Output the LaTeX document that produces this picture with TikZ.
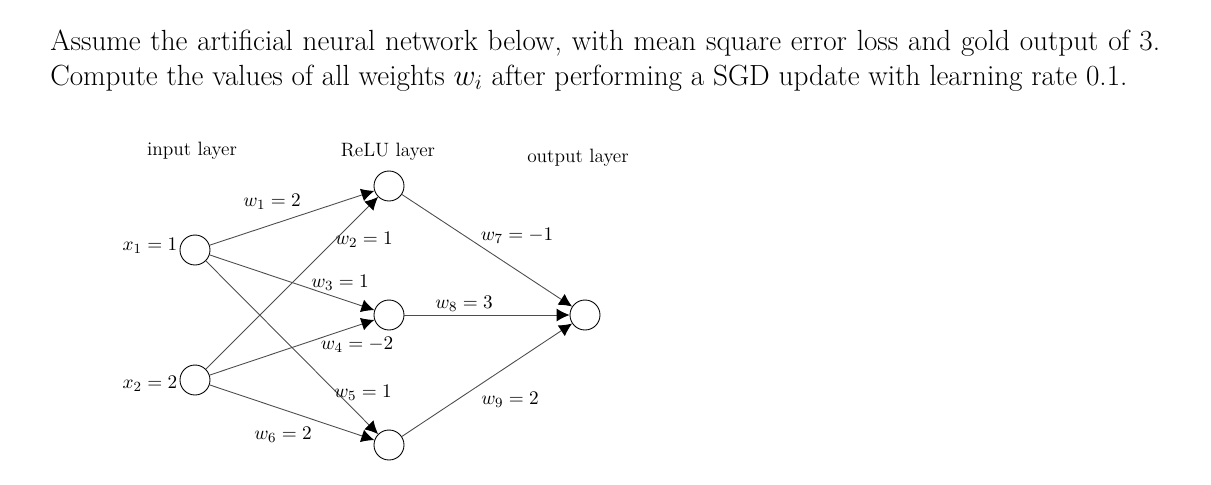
\documentclass[tikz,border=0pt]{standalone}
\usetikzlibrary{arrows.meta}
\begin{document}
\begin{tikzpicture}[x=0.02cm,y=-0.02cm,
  neuron/.style={circle,draw,minimum size=0.6cm,inner sep=0pt,line width=0.5pt},
  edge/.style={draw=black!70,line width=0.5pt,-{Latex[length=2.6mm,width=2.6mm,black]}},
  lab/.style={font=\fontsize{11}{13}\selectfont,inner sep=0pt}]
\useasboundingbox (0,0) rectangle (1211,484);
\node[anchor=north west,text width=22.2cm,align=justify,inner sep=0pt,font=\fontsize{16.6}{19.4}\selectfont] (q) at (50,30)
 {Assume the artificial neural network below, with mean square error loss and gold output of 3. Compute the values of all weights $w_i$ after performing a SGD update with learning rate 0.1.};
\node[neuron] (x1) at (195,250) {};
\node[neuron] (x2) at (195,380) {};
\node[neuron] (h1) at (389,186) {};
\node[neuron] (h2) at (389,315) {};
\node[neuron] (h3) at (389,445) {};
\node[neuron] (o) at (585,315) {};
\node[lab] (l1) at (192,151) {input layer};
\node[lab] (l2) at (388,152) {ReLU layer};
\node[lab] (l3) at (578,158) {output layer};
\node[lab] (t1) at (150,246) {$x_1=1$};
\node[lab] (t2) at (150,384) {$x_2=2$};
\draw[edge] (x1) -- (h1);
\draw[edge] (x1) -- (h2);
\draw[edge] (x1) -- (h3);
\draw[edge] (x2) -- (h1);
\draw[edge] (x2) -- (h2);
\draw[edge] (x2) -- (h3);
\draw[edge] (h1) -- (o);
\draw[edge] (h2) -- (o);
\draw[edge] (h3) -- (o);
\node[lab] (w1) at (272,202) {$w_1=2$};
\node[lab] (w2) at (364,240) {$w_2=1$};
\node[lab] (w3) at (340,283) {$w_3=1$};
\node[lab] (w4) at (357,345) {$w_4=-2$};
\node[lab] (w5) at (363,393) {$w_5=1$};
\node[lab] (w6) at (283,435) {$w_6=2$};
\node[lab] (w7) at (517,236) {$w_7=-1$};
\node[lab] (w8) at (464,304) {$w_8=3$};
\node[lab] (w9) at (510,400) {$w_9=2$};
\end{tikzpicture}
\end{document}
